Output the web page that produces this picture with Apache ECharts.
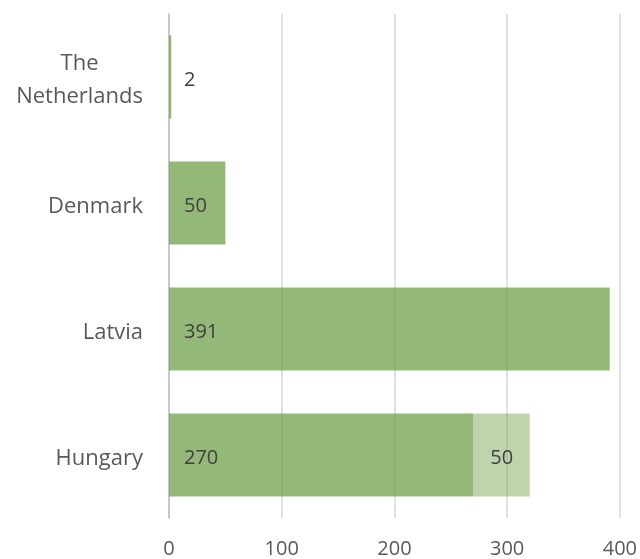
<!DOCTYPE html>
<html>
<head>
<meta charset="utf-8">
<style>
html, body { margin: 0; padding: 0; background: #fff; }
#chart { width: 640px; height: 559px; }
</style>
<script src="https://cdn.jsdelivr.net/npm/echarts@6/dist/echarts.min.js"></script>
</head>
<body>
<div id="chart"></div>
<script>
var countries = ['Hungary', 'Latvia', 'Denmark', 'The Netherlands'];
var mainValues = [270, 391, 50, 2];
var extraValues = [50, null, null, null];
var xTicks = [0, 100, 200, 300, 400];

var chart = echarts.init(document.getElementById('chart'));
var font = 'Open Sans';

chart.setOption({
    animation: false,
    grid: { left: 169, right: 19, top: 14, bottom: 41, containLabel: false },
    xAxis: {
        type: 'value',
        min: xTicks[0],
        max: xTicks[xTicks.length - 1],
        interval: 100,
        axisLine: { show: false },
        axisTick: { show: false },
        splitLine: { lineStyle: { color: '#d9d9d9', width: 1.5 } },
        axisLabel: { color: '#595959', fontSize: 20, fontFamily: font, margin: 21 }
    },
    yAxis: {
        type: 'category',
        data: countries,
        axisLine: { lineStyle: { color: '#bfbfbf', width: 1.5 } },
        axisTick: { show: false },
        axisLabel: {
            color: '#595959', fontSize: 22, fontFamily: font, margin: 26, lineHeight: 33,
            padding: [7, 0, 0, 0],
            formatter: function (v) {
                if (v === 'The Netherlands') return '{c|The}\n{c|Netherlands}';
                return v;
            },
            rich: { c: { align: 'center', fontSize: 22, fontFamily: font, color: '#595959', lineHeight: 33 } }
        }
    },
    series: [
        {
            type: 'bar',
            stack: 'total',
            data: mainValues,
            barWidth: '66%',
            itemStyle: { color: 'rgba(112,160,74,0.75)' },
            label: {
                show: true, position: 'insideLeft', distance: 15, offset: [0, 3],
                color: '#404040', fontSize: 20, fontFamily: font
            }
        },
        {
            type: 'bar',
            stack: 'total',
            data: extraValues,
            barWidth: '66%',
            itemStyle: { color: 'rgba(112,160,74,0.45)' },
            label: {
                show: true, position: 'insideLeft', distance: 17, offset: [0, 3],
                color: '#404040', fontSize: 20, fontFamily: font
            }
        }
    ]
});
</script>
</body>
</html>
